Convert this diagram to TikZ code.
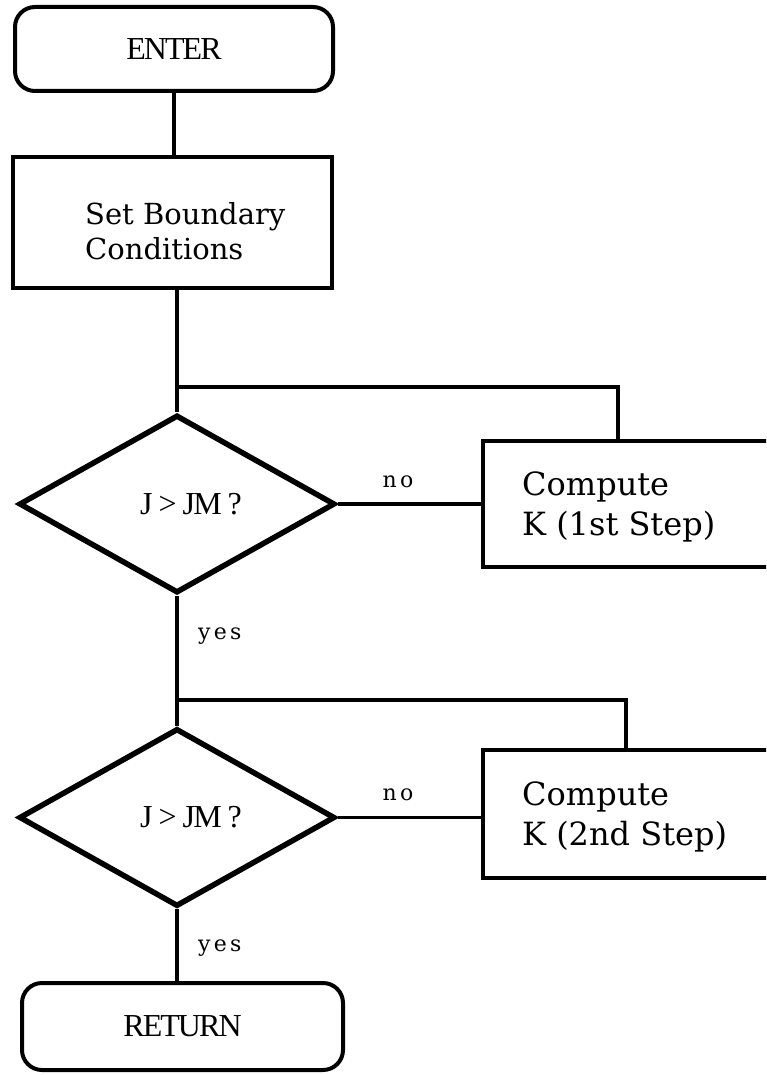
\documentclass[tikz,border=0pt]{standalone}
\usepackage{fontspec}
\setmainfont{Liberation Serif}
\newfontfamily\tightface[LetterSpace=-6]{Liberation Serif}
\newfontfamily\bodyface{DejaVu Serif}
\newfontfamily\yesnoface[LetterSpace=15]{DejaVu Serif}
\usepackage{tikz}
\usetikzlibrary{shapes.geometric}
\definecolor{ink}{HTML}{000000}
\definecolor{paper}{HTML}{FFFFFF}
\tikzset{
  term/.style={draw=ink, line width=4pt, rounded corners=20pt, inner sep=0pt, font=\tightface\fontsize{32}{34}\selectfont},
  proc/.style={draw=ink, line width=4pt, inner sep=0pt},
  cond/.style={draw=ink, diamond, line width=5.5pt, minimum width=316pt, minimum height=178pt, inner sep=0pt},
  condtext/.style={text=ink, inner sep=0pt, font=\tightface\fontsize{32}{34}\selectfont},
  link/.style={draw=ink, line width=3.5pt},
  lab/.style={text=ink, font=\bodyface\fontsize{32}{40}\selectfont, align=left, inner sep=0pt},
  labs/.style={text=ink, font=\yesnoface\fontsize{22}{24}\selectfont, inner sep=0pt},
}

\begin{document}
\begin{tikzpicture}[x=1pt,y=-1pt]
  \useasboundingbox (0,0) rectangle (766,1075);
  \clip (0,0) rectangle (766,1075);
  \fill[paper] (0,0) rectangle (766,1075);

  % main column
  \node[term, minimum width=318pt, minimum height=84pt] (enter) at (174,49) {ENTER};
  \node[proc, minimum width=319pt, minimum height=131pt] (bc) at (172.5,222.5) {};
  \node[lab, anchor=west, font=\bodyface\fontsize{29}{35}\selectfont] (bctext) at (85,231) {Set Boundary\\Conditions};
  \node[cond] (q1) at (177,504) {};
  \node[condtext] (q1text) at ([xshift=14pt]q1.center) {J > JM ?};
  \node[cond] (q2) at (177,817.5) {};
  \node[condtext] (q2text) at ([xshift=14pt]q2.center) {J > JM ?};
  \node[term, minimum width=321pt, minimum height=87pt] (ret) at (182.5,1026.5) {RETURN};

  % side boxes, cut by the right edge
  \node[proc, minimum width=317pt, minimum height=126pt] (k1) at (641.5,504) {};
  \node[lab, anchor=west] (k1text) at (522,507) {Compute\\K (1st Step)};
  \node[proc, minimum width=317pt, minimum height=128pt] (k2) at (641.5,814) {};
  \node[lab, anchor=west] (k2text) at (522,817) {Compute\\K (2nd Step)};

  \coordinate (j1) at (177,387);
  \coordinate (r1) at (618,387);
  \coordinate (j2) at (177,700);
  \coordinate (r2) at (626,700);

  \draw[link] (enter.south) -- (enter.south |- bc.north);
  \draw[link] (bc.south -| q1.north) -- (q1.north);
  \draw[link] (j1) -- (r1) -- (r1 |- k1.north);
  \draw[link] (q1.east) -- (q1.east -| k1.west);
  \node[labs] (no1) at (398,482) {no};

  \draw[link] (q1.south) -- (q2.north);
  \node[labs, anchor=west] (yes1) at (198,636) {yes};
  \draw[link] (j2) -- (r2) -- (r2 |- k2.north);
  \draw[link] (q2.east) -- (q2.east -| k2.west);
  \node[labs] (no2) at (398,795) {no};

  \draw[link] (q2.south) -- (q2.south |- ret.north);
  \node[labs, anchor=west] (yes2) at (198,948) {yes};
\end{tikzpicture}
\end{document}
